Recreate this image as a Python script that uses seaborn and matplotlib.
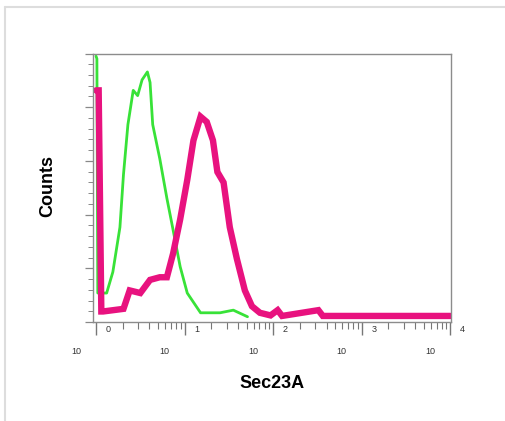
import numpy as np
import pandas as pd
import matplotlib
matplotlib.use("Agg")
import matplotlib.pyplot as plt
import matplotlib.lines as mlines
import seaborn as sns

# log10 fluorescence positions (decades) and relative counts
green_log = [0.00, 0.01, 0.02, 0.12, 0.19, 0.27, 0.31, 0.36, 0.42, 0.47, 0.52, 0.58,
             0.61, 0.64, 0.72, 0.80, 0.87, 0.95, 1.03, 1.18, 1.40, 1.55, 1.71]
green_counts = [99, 98, 9, 9, 17, 34, 54, 73, 86, 84, 90, 93,
                89, 73, 60, 45, 33, 19, 9, 1.5, 1.5, 2.5, 0]

magenta_log = [0.00, 0.03, 0.06, 0.08, 0.31, 0.38, 0.50, 0.61, 0.72, 0.80, 0.87,
               0.95, 1.03, 1.10, 1.18, 1.25, 1.32, 1.37, 1.44, 1.51, 1.59, 1.68,
               1.76, 1.85, 1.97, 2.05, 2.10, 2.51, 2.56, 4.00]
magenta_counts = [86, 86, 2, 2, 3, 10, 9, 14, 15, 15, 24,
                  37, 52, 67, 76, 74, 67, 55, 51, 34, 22, 10,
                  4, 1.5, 0.5, 2.5, 0.3, 2.5, 0.3, 0.3]

decades = [0, 1, 2, 3, 4]
x_label = "Sec23A"
y_label = "Counts"

green_df = pd.DataFrame({"x": np.power(10.0, green_log), "y": green_counts})
mag_df = pd.DataFrame({"x": np.power(10.0, magenta_log), "y": magenta_counts})

sns.set_style("white")
plt.rcParams["font.family"] = ["Liberation Sans", "DejaVu Sans"]

W, H = 506, 421
fig = plt.figure(figsize=(W / 100, H / 100), dpi=100)
ax = fig.add_axes([93 / W, 1 - 322 / H, (451 - 93) / W, (322 - 53.5) / H])

sns.lineplot(data=green_df, x="x", y="y", ax=ax, color="#38e238", lw=2.0,
             estimator=None, sort=False)
sns.lineplot(data=mag_df, x="x", y="y", ax=ax, color="#e8127f", lw=4.6,
             estimator=None, sort=False, solid_joinstyle="miter")

ax.set_xscale("log")
ax.set_xlim(10 ** -0.034, 10 ** 4.007)
ylo, yhi = -2, 100
ax.set_ylim(ylo, yhi)

for s in ax.spines.values():
    s.set_color("#8c8c8c")
    s.set_linewidth(1.0)

ax.set_xticks([10.0 ** d for d in decades])
minors = [m * 10.0 ** d for d in decades[:-1] for m in range(2, 10)]
ax.set_xticks(minors, minor=True)
ax.set_xticklabels([])
ax.set_xticklabels([], minor=True)
ax.tick_params(axis="x", which="major", direction="out", length=9, width=1.0,
               color="#777777", bottom=True)
ax.tick_params(axis="x", which="minor", direction="out", length=5, width=0.8,
               color="#777777", bottom=True)

ymaj = np.linspace(ylo, yhi, 6)
ymin = np.linspace(ylo, yhi, 26)
ax.set_yticks(ymaj)
ax.set_yticks(ymin, minor=True)
ax.set_yticklabels([])
ax.set_yticklabels([], minor=True)
ax.tick_params(axis="y", which="major", direction="out", length=6, width=0.9,
               color="#888888", left=True)
ax.tick_params(axis="y", which="minor", direction="out", length=3.5, width=0.7,
               color="#888888", left=True)
ax.set_xlabel("")
ax.set_ylabel("")

# decade labels drawn as "10" below with exponent to the right of the tick
for d in decades:
    xd = (ax.transData.transform((10.0 ** d, 0))[0])
    fig.text((xd + 12) / W, 1 - 329 / H, str(d), ha="center", va="center",
             fontsize=6.5, color="#333333")
    fig.text((xd - 20) / W, 1 - 351 / H, "10", ha="center", va="center",
             fontsize=6.5, color="#333333")

fig.text(272 / W, 1 - 384 / H, x_label, ha="center", va="center",
         fontsize=13, fontweight="bold", color="black")
fig.text(48 / W, 1 - 186 / H, y_label, ha="center", va="center",
         rotation=90, fontsize=13, fontweight="bold", color="black")

# faint outer frame (top and left)
fig.add_artist(mlines.Line2D([5.5 / W, 1.0], [1 - 6.5 / H, 1 - 6.5 / H],
                             color="#dddddd", lw=1.5, transform=fig.transFigure))
fig.add_artist(mlines.Line2D([5.5 / W, 5.5 / W], [0.0, 1 - 6.5 / H],
                             color="#dddddd", lw=1.5, transform=fig.transFigure))

fig.savefig("out.png", dpi=100)
